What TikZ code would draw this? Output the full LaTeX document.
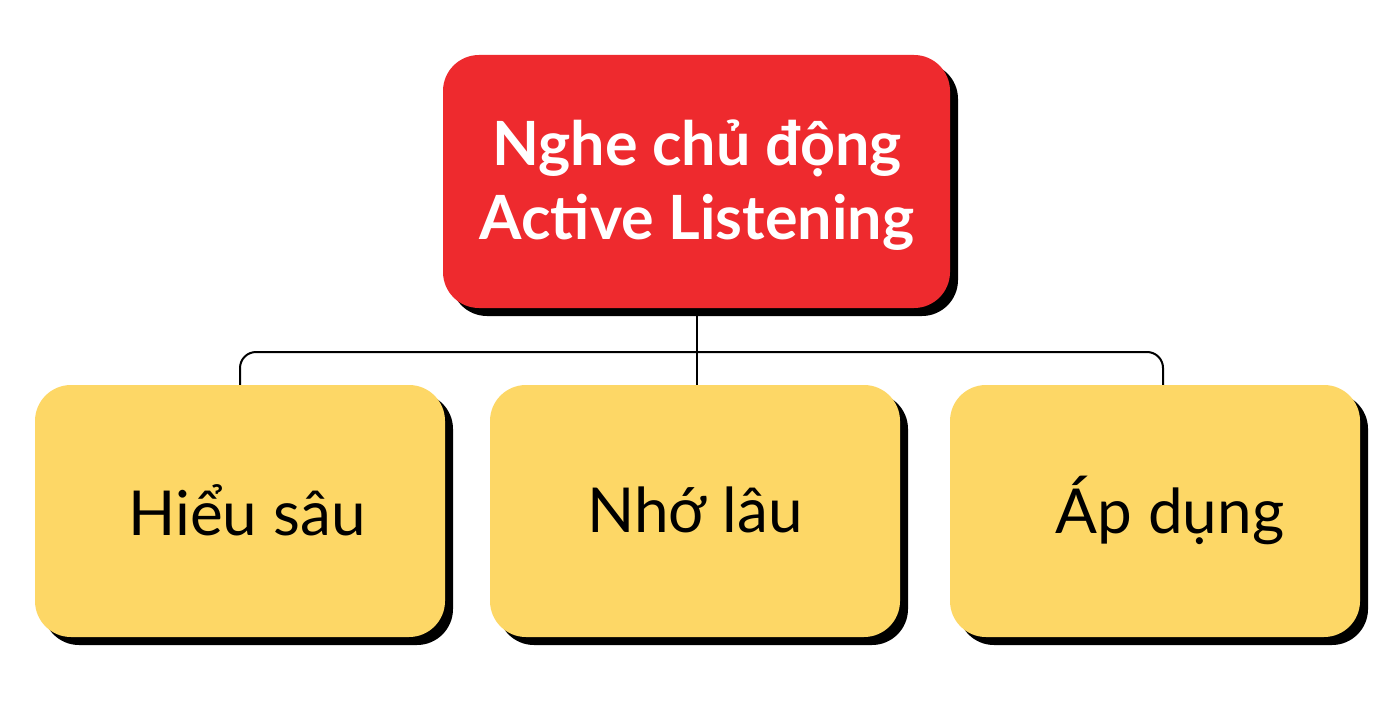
\documentclass[tikz,border=0pt]{standalone}
\usepackage{fontspec}
\setmainfont{Lato}
\definecolor{redbox}{HTML}{EE2A2E}
\definecolor{yelbox}{HTML}{FDD766}
\begin{document}
\begin{tikzpicture}[x=0.5pt,y=-0.5pt,
  topbox/.style={fill=redbox,rounded corners=18pt},
  subbox/.style={fill=yelbox,rounded corners=18pt},
  shadowbox/.style={fill=black,rounded corners=18pt},
  conn/.style={draw=black,line width=1pt,rounded corners=8pt},
  toptext/.style={text=white,font=\fontsize{30.5}{37}\selectfont\bfseries,align=center},
  subtext/.style={text=black,font=\fontsize{31}{36}\selectfont}]
\useasboundingbox[fill=white] (0,0) rectangle (1400,711);
% connectors
\coordinate (tb) at (697,308);
\coordinate (c1) at (240,386);
\coordinate (c2) at (697,386);
\coordinate (c3) at (1163,386);
\draw[conn] (c1) |- (697,352) -| (c3);
\draw[conn] (tb) -- (c2);
% shadows
\fill[shadowbox] (451,63) rectangle (958,316);
\fill[shadowbox] (43,393) rectangle (453,645);
\fill[shadowbox] (498,393) rectangle (908,645);
\fill[shadowbox] (958,393) rectangle (1368,645);
% boxes
\fill[topbox] (443,55) rectangle (950,308);
\fill[subbox] (35,385) rectangle (445,637);
\fill[subbox] (490,385) rectangle (900,637);
\fill[subbox] (950,385) rectangle (1360,637);
% texts
\node[toptext] (top) at (697,185) {Nghe chủ động\\Active Listening};
\node[subtext] (s1) at (247,510) {Hiểu sâu};
\node[subtext] (s2) at (695,510) {Nhớ lâu};
\node[subtext] (s3) at (1170,510) {Áp dụng};
\end{tikzpicture}
\end{document}
